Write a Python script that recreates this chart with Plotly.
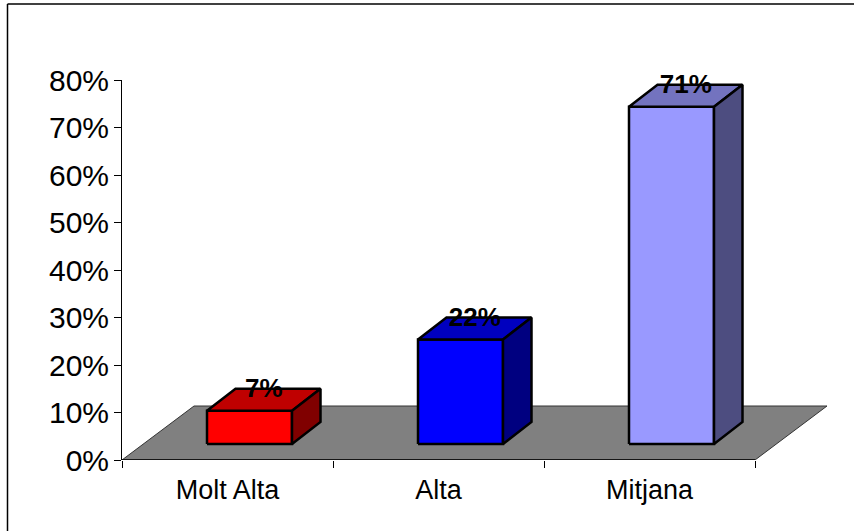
import plotly.graph_objects as go

categories = ["Molt Alta", "Alta", "Mitjana"]
values = [7, 22, 71]
data_labels = ["7%", "22%", "71%"]
y_ticks = [0, 10, 20, 30, 40, 50, 60, 70, 80]
y_tick_labels = ["0%", "10%", "20%", "30%", "40%", "50%", "60%", "70%", "80%"]
front_colors = ["#FF0000", "#0000FF", "#9999FF"]
top_colors = ["#BF0000", "#0000BF", "#7373BF"]
side_colors = ["#800000", "#000080", "#4D4D80"]

W, H = 854, 531
L, R, T, B = 122, 828, 80, 460
PX_X = 211.0            # pixels per category
PX_Y = (B - T) / 80.0   # pixels per percent
xmin = -0.5
xedge = len(categories) - 0.5
xmax = xmin + (R - L) / PX_X

# pseudo-3D geometry, in axis units
floor_dx = 72 / PX_X
floor_dy = 54 / PX_Y
bar_shift = 22 / PX_X
bar_half = 42.5 / PX_X
bar_base = 16 / PX_Y
depth_x = 28.5 / PX_X
depth_y = 22 / PX_Y
label_drop = 2 / PX_Y

fig = go.Figure()


def poly(xs, ys, fill, width=2.5, color="black"):
    fig.add_trace(go.Scatter(
        x=xs + xs[:1], y=ys + ys[:1], mode="lines", fill="toself", fillcolor=fill,
        line=dict(color=color, width=width), hoverinfo="skip", showlegend=False,
        cliponaxis=False,
    ))


# floor
poly([xmin, xedge, xedge + floor_dx, xmin + floor_dx],
     [0, 0, floor_dy, floor_dy], "#808080", width=1, color="#333333")

# x axis line
fig.add_trace(go.Scatter(
    x=[xmin, xedge], y=[0, 0], mode="lines", line=dict(color="black", width=1.5),
    hoverinfo="skip", showlegend=False, cliponaxis=False,
))

# bars
for i, v in enumerate(values):
    x0 = i + bar_shift - bar_half
    x1 = i + bar_shift + bar_half
    y0 = bar_base
    y1 = bar_base + v
    poly([x0, x1, x1, x0], [y0, y0, y1, y1], front_colors[i])
    poly([x0, x1, x1 + depth_x, x0 + depth_x], [y1, y1, y1 + depth_y, y1 + depth_y], top_colors[i])
    poly([x1, x1 + depth_x, x1 + depth_x, x1], [y0, y0 + depth_y, y1 + depth_y, y1], side_colors[i])

# data labels
fig.add_trace(go.Scatter(
    x=[i + bar_shift + depth_x / 2 for i in range(len(values))],
    y=[bar_base + v + depth_y - label_drop for v in values],
    mode="text", text=data_labels, textposition="middle center",
    textfont=dict(family="Liberation Sans", size=26, color="black", weight="bold"),
    hoverinfo="skip", showlegend=False, cliponaxis=False,
))


def px(x):
    return (x - L) / (R - L)


def py(y):
    return (B - y) / (B - T)


FRAME_X, FRAME_Y = 7.5, 4
fig.update_layout(
    width=W, height=H, autosize=False,
    paper_bgcolor="white", plot_bgcolor="white",
    margin=dict(l=L, r=W - R, t=T, b=H - B, pad=0),
    font=dict(family="Liberation Sans", color="black"),
    showlegend=False,
    xaxis=dict(
        range=[xmin, xmax], showgrid=False, zeroline=False, showline=False,
        tickmode="array", tickvals=list(range(len(categories))), ticktext=categories,
        ticks="", ticklabelstandoff=11, tickfont=dict(size=27),
        minor=dict(tickmode="array", tickvals=[xmin + k for k in range(len(categories) + 1)],
                   ticks="outside", ticklen=7, tickwidth=1, tickcolor="black", showgrid=False),
    ),
    yaxis=dict(
        range=[0, 80], showgrid=False, zeroline=False, showline=True,
        linecolor="black", linewidth=1,
        tickmode="array", tickvals=y_ticks, ticktext=y_tick_labels,
        ticks="outside", ticklen=7, tickwidth=1, tickcolor="black",
        ticklabelstandoff=-1, tickfont=dict(size=30),
    ),
    shapes=[
        dict(type="line", xref="paper", yref="paper", x0=px(FRAME_X), x1=px(W),
             y0=py(FRAME_Y), y1=py(FRAME_Y), line=dict(color="black", width=1.5)),
        dict(type="line", xref="paper", yref="paper", x0=px(FRAME_X), x1=px(FRAME_X),
             y0=py(FRAME_Y), y1=py(H), line=dict(color="black", width=1.5)),
    ],
)

fig.write_html("out.html", config=dict(displayModeBar=False),
               post_script="document.body.style.margin='0';document.body.style.overflow='hidden';")
